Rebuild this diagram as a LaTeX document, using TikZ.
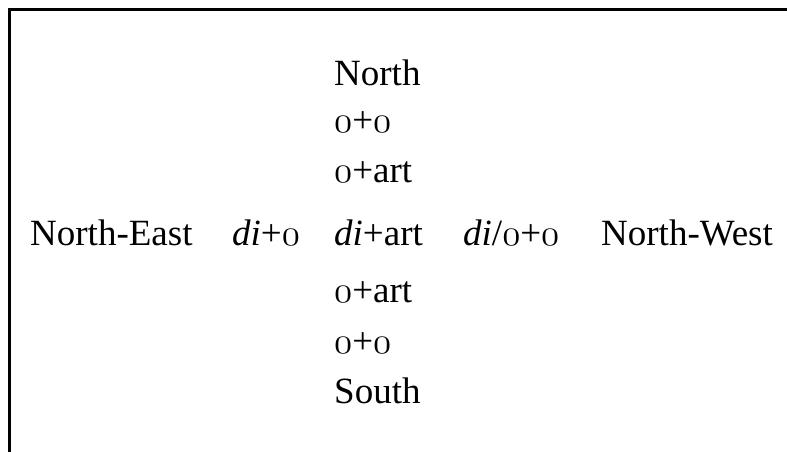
\documentclass[tikz,border=0pt]{standalone}
\usepackage{graphicx}
\usepackage{fontspec}
\setmainfont{Liberation Serif}
\newcommand{\zo}{\scalebox{1.487}{\fontsize{24.88}{30}\usefont{OML}{cmm}{m}{it}0}}
\begin{document}
\begin{tikzpicture}[x=1pt,y=-1pt,
  lbl/.style={anchor=base west, inner sep=0pt, font=\fontsize{37}{44}\selectfont},
  frame/.style={line width=3pt, black}]
\useasboundingbox (0,0) rectangle (787,452);
\coordinate (fb) at (9,452);
\coordinate (fc) at (9,10);
\coordinate (fr) at (787,10);
\draw[frame] (fb) -- (fc) -- (fr);
% centre column
\node[lbl] (north) at (334,85) {North};
\node[lbl] (n1) at (334,132) {\zo+\zo};
\node[lbl] (n2) at (334,182) {\zo+art};
\node[lbl] (mid) at (334,245) {\textit{di}+art};
\node[lbl] (s2) at (334,302) {\zo+art};
\node[lbl] (s1) at (334,353) {\zo+\zo};
\node[lbl] (south) at (334,403) {South};
% row
\node[lbl] (ne) at (30,245) {North-East};
\node[lbl] (dio) at (232,245) {\textit{di}+\zo};
\node[lbl] (dioo) at (463,245) {\textit{di}/\zo+\zo};
\node[lbl] (nw) at (601,245) {North-West};
\end{tikzpicture}
\end{document}
